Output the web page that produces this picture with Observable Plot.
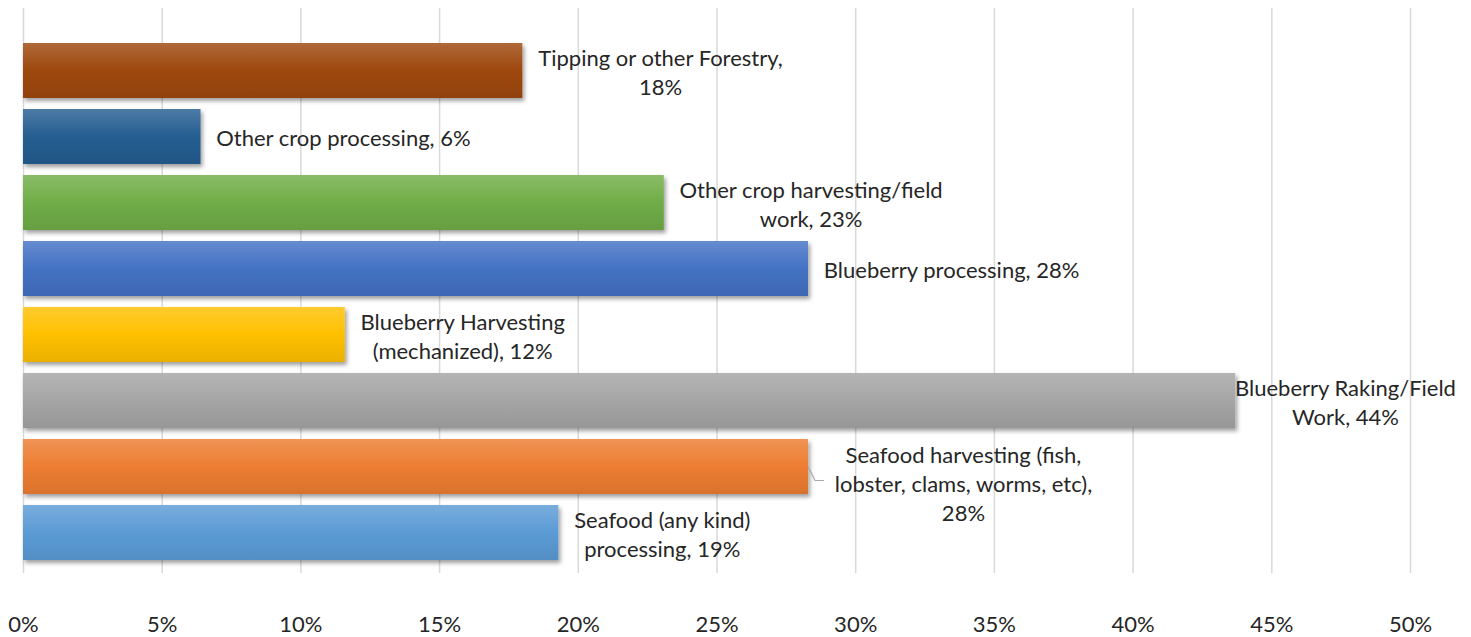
<!DOCTYPE html>
<html>
<head>
<meta charset="utf-8">
<script src="https://cdn.jsdelivr.net/npm/d3@7"></script>
<script src="https://cdn.jsdelivr.net/npm/@observablehq/plot@0.6"></script>
<style>
  html, body { margin: 0; padding: 0; background: #fff; }
  #chart svg { display: block; }
</style>
</head>
<body>
<div id="chart"></div>
<script>
// ---- data ----
const categories = [
  "Tipping or other Forestry",
  "Other crop processing",
  "Other crop harvesting/field work",
  "Blueberry processing",
  "Blueberry Harvesting (mechanized)",
  "Blueberry Raking/Field Work",
  "Seafood harvesting (fish, lobster, clams, worms, etc)",
  "Seafood (any kind) processing"
];
const values = [18.0, 6.4, 23.1, 28.3, 11.6, 43.7, 28.3, 19.3]; // percent
const labelLines = [
  ["Tipping or other Forestry,", "18%"],
  ["Other crop processing, 6%"],
  ["Other crop harvesting/field", "work, 23%"],
  ["Blueberry processing, 28%"],
  ["Blueberry Harvesting", "(mechanized), 12%"],
  ["Blueberry Raking/Field", "Work, 44%"],
  ["Seafood harvesting (fish,", "lobster, clams, worms, etc),", "28%"],
  ["Seafood (any kind)", "processing, 19%"]
];
const colors = ["#9E480E", "#255E91", "#70AD47", "#4472C4", "#FFC000", "#A5A5A5", "#ED7D31", "#5B9BD5"];
const xTicks = [0, 5, 10, 15, 20, 25, 30, 35, 40, 45, 50];

const data = categories.map((c, i) => ({cat: c, value: values[i], idx: i, text: labelLines[i].join("\n")}));

// ---- styling ----
const FONT = "Lato, 'Open Sans', sans-serif";
const FS = 22;
const canvas = document.createElement("canvas");
const ctx = canvas.getContext("2d");
ctx.font = `${FS}px Lato`;
const textW = lines => Math.max(...lines.map(l => ctx.measureText(l).width));

const labelMarks = data.map(d => {
  const w = textW(labelLines[d.idx]);
  let dx = w / 2 + 15, dy = 0;
  if (d.idx === 5) dx = w / 2 - 1;          // label overlapping end of long bar
  if (d.idx === 6) { dx = w / 2 + 26; dy = 16; } // label with leader line
  return Plot.text([d], {
    x: "value", y: "cat", text: "text",
    dx, dy, textAnchor: "middle", lineAnchor: "middle",
    lineHeight: 1.32, fill: "#262626", fontSize: FS, fontFamily: FONT
  });
});

const leader = Plot.dot([data[6]], {
  x: "value", y: "cat",
  render(index, scales, values, dimensions, context) {
    const d = data[6];
    const x0 = scales.x(d.value);
    const y0 = scales.y(d.cat) + scales.y.bandwidth() / 2;
    const g = d3.create("svg:g");
    g.append("path")
      .attr("d", `M${x0},${y0} L${x0 + 7},${y0 + 14} L${x0 + 16},${y0 + 14}`)
      .attr("fill", "none").attr("stroke", "#a6a6a6").attr("stroke-width", 1.2);
    return g.node();
  }
});

const chart = Plot.plot({
  width: 1471,
  height: 637,
  marginLeft: 23,
  marginRight: 61,
  marginTop: 8,
  marginBottom: 64,
  style: {fontFamily: FONT, fontSize: "22px", color: "#262626", background: "#fff"},
  x: {domain: [0, 50], ticks: xTicks, tickFormat: d => d + "%", tickSize: 0, tickPadding: 43, label: null},
  y: {domain: categories, range: [39, 564], paddingInner: 0.16, paddingOuter: 0, axis: null},
  color: {type: "identity"},
  marks: [
    Plot.ruleX(xTicks, {stroke: "#d9d9d9", strokeWidth: 1.5}),
    Plot.barX(data, {
      x: "value", y: "cat",
      fill: d => `url(#grad${d.idx})`
    }),
    leader,
    ...labelMarks
  ]
});

// gradients & shadow
const svg = d3.select(chart);
const defs = svg.insert("defs", ":first-child");
colors.forEach((c, i) => {
  const base = d3.color(c);
  const top = d3.interpolateRgb(c, "#ffffff")(0.18);
  const bot = base.darker(0.25).formatHex();
  const lg = defs.append("linearGradient").attr("id", `grad${i}`)
    .attr("x1", 0).attr("y1", 0).attr("x2", 0).attr("y2", 1);
  lg.append("stop").attr("offset", "0%").attr("stop-color", top);
  lg.append("stop").attr("offset", "50%").attr("stop-color", c);
  lg.append("stop").attr("offset", "100%").attr("stop-color", bot);
});
const f = defs.append("filter").attr("id", "shadow")
  .attr("x", "-5%").attr("y", "-20%").attr("width", "110%").attr("height", "160%");
f.append("feDropShadow").attr("dx", 2).attr("dy", 3).attr("stdDeviation", 2.2)
  .attr("flood-color", "#000").attr("flood-opacity", 0.38);
svg.selectAll("g[aria-label='bar'] rect").attr("filter", "url(#shadow)");
svg.selectAll("g[aria-label='x-axis tick label'] text").attr("fill", "#262626");

document.getElementById("chart").appendChild(chart);
</script>
</body>
</html>
